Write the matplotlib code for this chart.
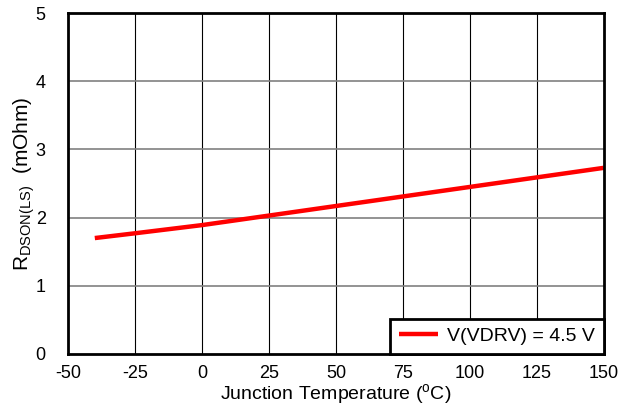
import matplotlib
matplotlib.use("Agg")
import matplotlib.pyplot as plt

plt.rcParams['font.family'] = ['Liberation Sans', 'DejaVu Sans']
plt.rcParams['mathtext.fontset'] = 'custom'
plt.rcParams['mathtext.rm'] = 'Liberation Sans'
plt.rcParams['axes.unicode_minus'] = False

# data
temp = [-40, -25, 0, 25, 50, 75, 100, 125, 150]
rdson = [1.70, 1.77, 1.89, 2.03, 2.17, 2.31, 2.45, 2.59, 2.73]
xticks = [-50, -25, 0, 25, 50, 75, 100, 125, 150]
yticks = [0, 1, 2, 3, 4, 5]

fig = plt.figure(figsize=(6.34, 4.08), dpi=100)
ax = fig.add_axes([68/634, 1 - 354/408, (604-68)/634, (354-13)/408])

ax.plot(temp, rdson, color='#ff0000', lw=3.2, label='V(VDRV) = 4.5 V', solid_capstyle='butt')

ax.set_xlim(-50, 150)
ax.set_ylim(0, 5)
ax.set_xticks(xticks)
ax.set_yticks(yticks)
for v in xticks[1:-1]:
    ax.axvline(v, color='black', lw=0.8, zorder=0)
for v in yticks[1:-1]:
    ax.axhline(v, color='#808080', lw=1.2, zorder=0)

for s in ax.spines.values():
    s.set_linewidth(2)
ax.tick_params(length=0, labelsize=13)
ax.tick_params(axis='x', pad=8)
ax.tick_params(axis='y', pad=16)

ax.set_xlabel(r'Junction Temperature ($^{\mathregular{o}}$C)', fontsize=14, labelpad=0)
ax.set_ylabel(r'R$_{\mathregular{DSON(LS)}}$  (mOhm)', fontsize=15, labelpad=-1)

leg = ax.legend(loc='lower right', fontsize=14, frameon=True, fancybox=False,
                borderaxespad=0, handlelength=2.0, handletextpad=0.5, borderpad=0.45)
leg.get_frame().set_edgecolor('black')
leg.get_frame().set_linewidth(2)
leg.get_frame().set_alpha(1)

fig.savefig('out.png', dpi=100)
